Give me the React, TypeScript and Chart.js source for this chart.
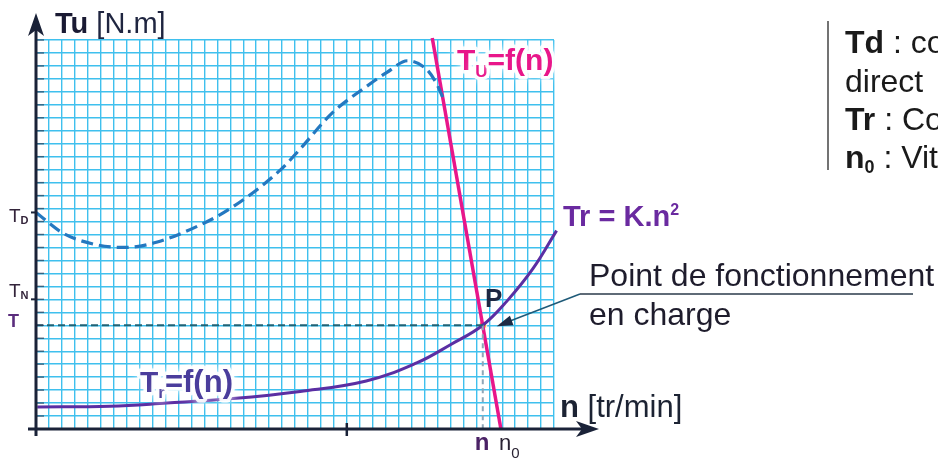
import React, { useEffect, useRef } from "react";
import { Chart, registerables } from "chart.js";
Chart.register(...registerables);

const FONT = '"Liberation Sans", Arial, sans-serif';

// Axis ranges (grid units)
const N_MAX = 40;
const T_MAX = 30;

// Td = f(n) : direct starting torque curve (dashed)
const tdN = [0, 2.1, 4.7, 6.9, 9.3, 12.6, 15.0, 18.9, 20.4, 22.9, 25.5, 27.1, 28.7, 30.1, 30.9, 31.4];
const tdT = [16.7, 15.1, 14.2, 14.0, 14.4, 15.7, 17.0, 20.0, 21.6, 24.4, 26.4, 27.5, 28.4, 27.8, 26.7, 25.6];

// Tr = f(n) : load torque K.n²
const trN = [0.1, 5.7, 10.1, 15.2, 20.4, 25.5, 29.4, 32.0, 34.5, 36.4, 38.4, 40.2];
const trT = [1.7, 1.75, 2.0, 2.35, 2.9, 3.7, 5.1, 6.5, 8.0, 9.9, 12.4, 15.3];

// Tu = f(n) : motor torque (straight part)
const tuN = [30.6, 35.9];
const tuT = [30.15, 0];

// Operating point P and axis marks
const pointN = 34.5;
const pointT = 8.0;
const tD = 16.7;
const tN = 10;
const n0 = 35.9;
const markN = 24;

type Run = { t: string; w?: number; s: number; dy?: number; c: string };

function drawRuns(ctx: CanvasRenderingContext2D, x: number, y: number, runs: Run[], halo = false) {
  let cx = x;
  for (const r of runs) {
    ctx.font = `${r.w ?? 400} ${r.s}px ${FONT}`;
    if (halo) {
      ctx.save();
      ctx.strokeStyle = "rgba(255,255,255,0.9)";
      ctx.lineWidth = 7;
      ctx.lineJoin = "round";
      ctx.shadowColor = "rgba(255,255,255,1)";
      ctx.shadowBlur = 8;
      ctx.strokeText(r.t, cx, y + (r.dy ?? 0));
      ctx.restore();
    }
    ctx.fillStyle = r.c;
    ctx.fillText(r.t, cx, y + (r.dy ?? 0));
    cx += ctx.measureText(r.t).width;
  }
  return cx;
}

const decorPlugin = {
  id: "decor",
  afterDraw(chart: any) {
    const ctx: CanvasRenderingContext2D = chart.ctx;
    const xs = chart.scales.x;
    const ys = chart.scales.y;
    const X = (v: number) => xs.getPixelForValue(v);
    const Y = (v: number) => ys.getPixelForValue(v);
    const x0 = X(0);
    const y0 = Y(0);
    ctx.save();
    ctx.textBaseline = "alphabetic";
    ctx.textAlign = "left";

    // small ticks along y axis
    ctx.strokeStyle = "rgba(40,50,75,0.65)";
    ctx.lineWidth = 1.5;
    for (let v = 1; v <= T_MAX; v++) {
      ctx.beginPath();
      ctx.moveTo(x0, Y(v));
      ctx.lineTo(x0 + 8, Y(v));
      ctx.stroke();
    }

    // axes
    const axisColor = "#1a2238";
    ctx.strokeStyle = axisColor;
    ctx.fillStyle = axisColor;
    ctx.lineWidth = 3;
    ctx.beginPath();
    ctx.moveTo(x0, y0 + 7);
    ctx.lineTo(x0, 24);
    ctx.stroke();
    ctx.beginPath();
    ctx.moveTo(x0 - 8, y0);
    ctx.lineTo(590, y0);
    ctx.stroke();
    // arrow heads
    ctx.beginPath();
    ctx.moveTo(x0, 13);
    ctx.lineTo(x0 + 8, 36);
    ctx.lineTo(x0, 30);
    ctx.lineTo(x0 - 8, 36);
    ctx.closePath();
    ctx.fill();
    ctx.beginPath();
    ctx.moveTo(599, y0);
    ctx.lineTo(576, y0 - 8);
    ctx.lineTo(582, y0);
    ctx.lineTo(576, y0 + 8);
    ctx.closePath();
    ctx.fill();
    // x tick
    ctx.lineWidth = 2.5;
    ctx.beginPath();
    ctx.moveTo(X(markN), y0 - 6);
    ctx.lineTo(X(markN), y0 + 7);
    ctx.stroke();
    // y marks
    ctx.lineWidth = 2;
    for (const v of [tD, tN]) {
      ctx.beginPath();
      ctx.moveTo(x0 - 5, Y(v));
      ctx.lineTo(x0, Y(v));
      ctx.stroke();
    }

    // y labels
    drawRuns(ctx, 9, Y(tD) + 10, [
      { t: "T", s: 19, c: "#33243a" },
      { t: "D", s: 11, w: 700, dy: 2, c: "#33243a" },
    ]);
    drawRuns(ctx, 9, Y(tN) - 2, [
      { t: "T", s: 19, c: "#33243a" },
      { t: "N", s: 11, w: 700, dy: 2, c: "#33243a" },
    ]);
    drawRuns(ctx, 8, Y(pointT) + 2, [{ t: "T", s: 18, w: 700, c: "#5b2d7d" }]);

    // x labels
    drawRuns(ctx, X(pointN) - 8, 450, [{ t: "n", s: 24, w: 700, c: "#4b2266" }]);
    drawRuns(ctx, X(n0) - 2, 450, [
      { t: "n", s: 22, c: "#2a2333" },
      { t: "0", s: 15, dy: 8, c: "#2a2333" },
    ]);

    // axis titles
    drawRuns(ctx, 55, 33, [
      { t: "Tu", s: 29, w: 700, c: "#1a1a33" },
      { t: " [N.m]", s: 29, c: "#1f2540" },
    ]);
    drawRuns(ctx, 560, 417, [
      { t: "n", s: 31, w: 700, c: "#1c2333" },
      { t: " [tr/min]", s: 31, c: "#1c2333" },
    ]);

    // curve labels
    drawRuns(
      ctx,
      457,
      70,
      [
        { t: "T", s: 30, w: 700, c: "#e8168a" },
        { t: "U", s: 17, w: 700, dy: 7, c: "#e8168a" },
        { t: "=f(n)", s: 30, w: 700, c: "#e8168a" },
      ],
      true
    );
    drawRuns(ctx, 563, 226, [
      { t: "Tr = K.n", s: 29, w: 700, c: "#6a2aa0" },
      { t: "2", s: 16, w: 700, dy: -11, c: "#6a2aa0" },
    ]);
    drawRuns(
      ctx,
      140,
      392,
      [
        { t: "T", s: 30, w: 700, c: "#4a3d9c" },
        { t: "r", s: 17, w: 700, dy: 6, c: "#4a3d9c" },
        { t: "=f(n)", s: 31, w: 700, c: "#4a3d9c" },
      ],
      true
    );
    drawRuns(ctx, 485, 307, [{ t: "P", s: 26, w: 700, c: "#1d2742" }]);

    // annotation
    drawRuns(ctx, 589, 286, [{ t: "Point de fonctionnement", s: 32, c: "#1e1c2c" }]);
    drawRuns(ctx, 589, 325, [{ t: "en charge", s: 32, c: "#1e1c2c" }]);
    ctx.strokeStyle = "#2a3a4a";
    ctx.lineWidth = 1.5;
    ctx.beginPath();
    ctx.moveTo(913, 294);
    ctx.lineTo(580, 294);
    ctx.stroke();
    const tipX = X(pointN) + 14;
    const tipY = Y(pointT) + 1;
    ctx.strokeStyle = "#1e5a78";
    ctx.beginPath();
    ctx.moveTo(580, 294);
    ctx.lineTo(tipX + 10, tipY - 4);
    ctx.stroke();
    const dx = 580 - tipX;
    const dy = 294 - tipY;
    const len = Math.hypot(dx, dy);
    const ux = dx / len;
    const uy = dy / len;
    ctx.fillStyle = "#1d2a44";
    ctx.beginPath();
    ctx.moveTo(tipX, tipY);
    ctx.lineTo(tipX + ux * 16 - uy * 5, tipY + uy * 16 + ux * 5);
    ctx.lineTo(tipX + ux * 16 + uy * 5, tipY + uy * 16 - ux * 5);
    ctx.closePath();
    ctx.fill();

    // side legend
    ctx.strokeStyle = "#444";
    ctx.lineWidth = 1.5;
    ctx.beginPath();
    ctx.moveTo(828, 21);
    ctx.lineTo(828, 170);
    ctx.stroke();
    drawRuns(ctx, 845, 53, [
      { t: "Td", s: 32, w: 700, c: "#1a1a1a" },
      { t: " : co", s: 32, c: "#1a1a1a" },
    ]);
    drawRuns(ctx, 845, 92, [{ t: "direct", s: 32, c: "#1a1a1a" }]);
    drawRuns(ctx, 845, 130, [
      { t: "Tr", s: 32, w: 700, c: "#1a1a1a" },
      { t: " : Co", s: 32, c: "#1a1a1a" },
    ]);
    drawRuns(ctx, 845, 168, [
      { t: "n", s: 32, w: 700, c: "#1a1a1a" },
      { t: "0", s: 18, w: 700, dy: 5, c: "#1a1a1a" },
      { t: " : Vit", s: 32, c: "#1a1a1a" },
    ]);
    ctx.restore();
  },
};

export default function App() {
  const ref = useRef<HTMLCanvasElement>(null);
  useEffect(() => {
    document.body.style.margin = "0";
    const canvas = ref.current!;
    const pts = (xs: number[], ys: number[]) => xs.map((x, i) => ({ x, y: ys[i] }));
    const chart = new Chart(canvas, {
      type: "line",
      data: {
        datasets: [
          {
            data: [
              { x: 0, y: pointT },
              { x: pointN, y: pointT },
            ],
            borderColor: "#1f6275",
            borderWidth: 2,
            borderDash: [7, 4],
            pointRadius: 0,
          },
          {
            data: [
              { x: pointN, y: pointT },
              { x: pointN, y: 0 },
            ],
            borderColor: "#8fa7b8",
            borderWidth: 2,
            borderDash: [5, 4],
            pointRadius: 0,
          },
          {
            data: pts(tdN, tdT),
            borderColor: "#2478c0",
            borderWidth: 3.2,
            borderDash: [12, 6],
            pointRadius: 0,
            cubicInterpolationMode: "monotone",
          },
          {
            data: pts(trN, trT),
            borderColor: "#5b2ea3",
            borderWidth: 3,
            pointRadius: 0,
            tension: 0.4,
            clip: false,
          },
          {
            data: pts(tuN, tuT),
            borderColor: "#e8168a",
            borderWidth: 3.5,
            pointRadius: 0,
            clip: false,
          },
          {
            data: [{ x: pointN, y: pointT }],
            pointRadius: 4,
            pointBackgroundColor: "#f6a830",
            pointBorderColor: "#ffffff",
            pointBorderWidth: 1,
            showLine: false,
          },
        ] as any,
      },
      options: {
        animation: false,
        responsive: false,
        devicePixelRatio: 1,
        events: [],
        layout: { padding: { left: 36, right: 384, top: 40, bottom: 33 } },
        plugins: { legend: { display: false }, tooltip: { enabled: false } },
        scales: {
          x: {
            type: "linear",
            min: 0,
            max: N_MAX,
            ticks: { display: false, stepSize: 1, maxTicksLimit: 100, autoSkip: false },
            grid: { color: "#3fc0ee", lineWidth: 1.4, drawTicks: false },
            border: { display: false },
          },
          y: {
            type: "linear",
            min: 0,
            max: T_MAX,
            ticks: { display: false, stepSize: 1, maxTicksLimit: 100, autoSkip: false },
            grid: { color: "#3fc0ee", lineWidth: 1.4, drawTicks: false },
            border: { display: false },
          },
        },
      } as any,
      plugins: [decorPlugin],
    });
    return () => chart.destroy();
  }, []);
  return (
    <div style={{ width: 938, height: 462, background: "#fff" }}>
      <canvas ref={ref} width={938} height={462} style={{ display: "block", width: 938, height: 462 }} />
    </div>
  );
}
